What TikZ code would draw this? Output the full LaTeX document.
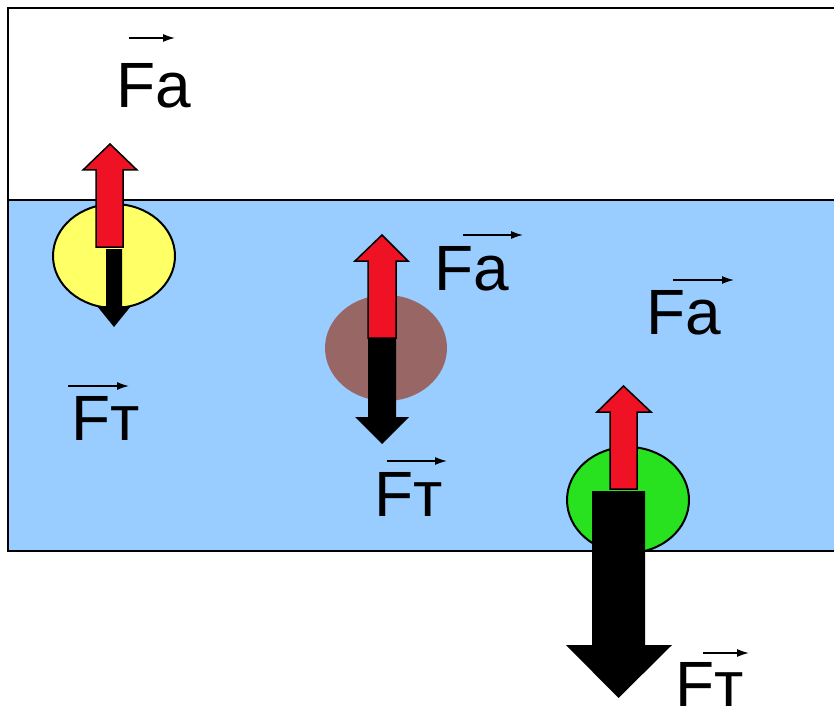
\documentclass[tikz,border=0pt]{standalone}
\usepackage{fontspec}
\setmainfont{Liberation Sans}
\usetikzlibrary{arrows.meta}
\definecolor{water}{HTML}{99CCFF}
\definecolor{ballyellow}{HTML}{FFFF66}
\definecolor{ballbrown}{HTML}{996666}
\definecolor{ballgreen}{HTML}{29E21F}
\definecolor{forcered}{HTML}{EE1224}
\tikzset{
  lbl/.style={anchor=base west, inner sep=0pt, font=\fontsize{64}{64}\selectfont},
  vec/.style={line width=1.5pt, -{Latex[length=12pt,width=8pt]}},
  redarrow/.style={fill=forcered, draw=black, line width=1.5pt, line join=miter},
  blackarrow/.style={fill=black, draw=none},
  ball/.style={draw=black, line width=2pt}
}
\begin{document}
\begin{tikzpicture}[x=1pt,y=-1pt]
\useasboundingbox (0,0) rectangle (834,711);
% water
\fill[water] (8,200) rectangle (836,551);
\draw[line width=2pt] (836,8) -- (8,8) -- (8,551) -- (836,551);
\draw[line width=2pt] (8,200) -- (836,200);
% balls
\filldraw[ball, fill=ballyellow] (114,256) ellipse [x radius=61, y radius=52];
\fill[ballbrown] (386,348) ellipse [x radius=61, y radius=53];
\filldraw[ball, fill=ballgreen] (628,500) ellipse [x radius=61, y radius=53];
% left forces
\draw[redarrow] (96,247) -- (96,170) -- (83,170) -- (110,144) -- (137,170) -- (123,170) -- (123,247) -- cycle;
\fill[blackarrow] (106,249) -- (106,306) -- (97,306) -- (114,327) -- (131,306) -- (122,306) -- (122,249) -- cycle;
% middle forces
\draw[redarrow] (368,338) -- (368,261) -- (355,261) -- (382,235) -- (408,261) -- (396,261) -- (396,338) -- cycle;
\fill[blackarrow] (368,339) -- (368,417) -- (355,417) -- (382,444) -- (409,417) -- (396,417) -- (396,339) -- cycle;
% right forces
\draw[redarrow] (610,489) -- (610,412) -- (597,412) -- (623.5,386) -- (651,412) -- (637,412) -- (637,489) -- cycle;
\fill[blackarrow] (592,491) -- (592,645) -- (566,645) -- (618.5,698) -- (672,645) -- (645,645) -- (645,491) -- cycle;
% labels
\node[lbl] (fa1) at (116,108) {Fa};
\node[lbl] (fa2) at (434,290) {Fa};
\node[lbl] (fa3) at (646,334) {Fa};
\node[lbl] (ft1) at (71,440) {Fт};
\node[lbl] (ft2) at (374,516) {Fт};
\node[lbl] (ft3) at (675,706) {Fт};
% vector marks
\coordinate (v1a) at (129,38);  \coordinate (v1b) at (175,38);
\coordinate (v2a) at (463,235); \coordinate (v2b) at (523,235);
\coordinate (v3a) at (673,280); \coordinate (v3b) at (734,280);
\coordinate (v4a) at (68,386);  \coordinate (v4b) at (129,386);
\coordinate (v5a) at (387,461); \coordinate (v5b) at (447,461);
\coordinate (v6a) at (703,653); \coordinate (v6b) at (749,653);
\draw[vec] (v1a) -- (v1b);
\draw[vec] (v2a) -- (v2b);
\draw[vec] (v3a) -- (v3b);
\draw[vec] (v4a) -- (v4b);
\draw[vec] (v5a) -- (v5b);
\draw[vec] (v6a) -- (v6b);
\end{tikzpicture}
\end{document}
